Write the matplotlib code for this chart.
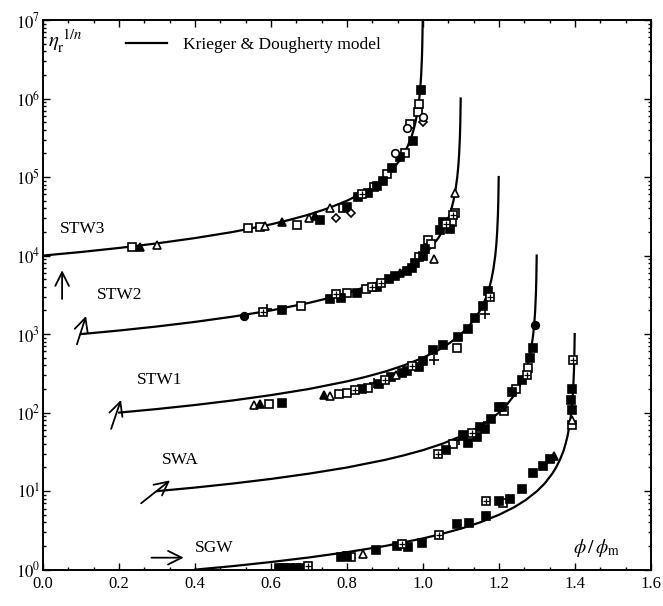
import numpy as np
import matplotlib
matplotlib.use("Agg")
import matplotlib.pyplot as plt
from matplotlib.ticker import MultipleLocator, LogLocator, NullFormatter, FormatStrFormatter, FuncFormatter

####### Data #######

# shape of the Krieger & Dougherty curve (relative to each curve's start)
model_x = np.array([0.0, 0.1, 0.2, 0.3, 0.4, 0.5, 0.6, 0.65, 0.7, 0.75, 0.8, 0.84, 0.87,
                    0.9, 0.92, 0.94, 0.95, 0.96, 0.97, 0.975, 0.98, 0.985, 0.99, 0.993,
                    0.995, 0.997, 0.998, 0.999])
model_y = np.array([1.0, 1.11, 1.25, 1.43, 1.67, 2.0, 2.5, 2.86, 3.33, 4.0, 5.0, 6.25, 7.7,
                    10, 12.5, 16.7, 20, 25, 33, 40, 50, 67, 100, 143,
                    200, 333, 500, 1000])

series_names = ["STW3", "STW2", "STW1", "SWA", "SGW"]
x_shift = [0.0, 0.1, 0.2, 0.3, 0.4]
y_factor = [1e4, 1e3, 1e2, 1e1, 1e0]

# measured points; marker codes: s open square, S filled square, t open triangle,
# T filled triangle, d open diamond, o open circle, O filled circle, + plus, b boxed plus
stw3_x = [0.234, 0.255, 0.30, 0.54, 0.571, 0.584, 0.629, 0.668, 0.70, 0.715, 0.73, 0.755,
          0.77, 0.79, 0.80, 0.81, 0.83, 0.84, 0.855, 0.87, 0.879, 0.895, 0.905, 0.918,
          0.926, 0.94, 0.953, 0.958, 0.966, 0.974, 0.987, 0.99, 0.995, 1.0, 1.0]
stw3_y = [1.3e4, 1.3e4, 1.35e4, 2.25e4, 2.3e4, 2.4e4, 2.65e4, 2.45e4, 3.0e4, 3.2e4, 2.8e4, 4.0e4,
          3.0e4, 4.0e4, 4.2e4, 3.5e4, 5.5e4, 6.0e4, 6.2e4, 7.5e4, 7.8e4, 9.0e4, 1.1e5, 1.3e5,
          2.0e5, 1.8e5, 2.0e5, 4.2e5, 4.7e5, 2.9e5, 6.8e5, 8.5e5, 1.3e6, 5.9e5, 5.0e5]
stw3_m = "sTtsstTstTStdsSdSbSsSSsSoSsosSssSod"

stw2_x = [0.53, 0.58, 0.59, 0.63, 0.68, 0.755, 0.77, 0.785, 0.80, 0.826, 0.85, 0.865, 0.879,
          0.89, 0.91, 0.926, 0.94, 0.958, 0.97, 0.98, 0.99, 1.0, 1.005, 1.013, 1.02, 1.03,
          1.045, 1.053, 1.06, 1.07, 1.076, 1.08, 1.084, 1.084]
stw2_y = [1.7e3, 1.9e3, 2.1e3, 2.0e3, 2.3e3, 2.8e3, 3.2e3, 2.9e3, 3.3e3, 3.3e3, 3.8e3, 4.0e3, 4.0e3,
          4.5e3, 5.0e3, 5.5e3, 6.0e3, 6.3e3, 7.0e3, 8.1e3, 9.5e3, 1.0e4, 1.2e4, 1.6e4, 1.4e4, 9.0e3,
          2.1e4, 2.7e4, 2.5e4, 2.2e4, 2.7e4, 3.3e4, 3.5e4, 6.2e4]
stw2_m = "Ob+SsSbSsSsbSbSSTSSSsSSsstSSbSsbst"

stw1_x = [0.555, 0.57, 0.595, 0.63, 0.74, 0.755, 0.78, 0.80, 0.82, 0.84, 0.855, 0.87, 0.885,
          0.90, 0.915, 0.93, 0.945, 0.958, 0.97, 0.99, 1.0, 1.026, 1.03, 1.053, 1.09, 1.092,
          1.118, 1.137, 1.158, 1.163, 1.17, 1.175]
stw1_y = [125, 128, 130, 132, 170, 165, 175, 180, 195, 200, 205, 240, 230,
          260, 280, 300, 320, 340, 390, 380, 460, 620, 470, 720, 660, 930,
          1170, 1600, 2300, 1800, 3500, 3000]
stw1_m = "tTsSTtssbSs+SbStSSbSSS+SsSSSS+Sb"

swa_x = [1.04, 1.06, 1.08, 1.095, 1.105, 1.118, 1.13, 1.142, 1.15, 1.163, 1.17, 1.18, 1.2,
         1.208, 1.213, 1.234, 1.245, 1.26, 1.274, 1.276, 1.282, 1.29, 1.295]
swa_y = [30, 33, 40, 45, 52, 41, 55, 49, 66, 62, 75, 83, 117,
         117, 105, 182, 200, 257, 302, 372, 500, 660, 1290]
swa_m = "bSs+SSbSSS+SSSsSsSbsSSO"

sgw_x = [0.62, 0.635, 0.65, 0.665, 0.68, 0.697, 0.785, 0.80, 0.81, 0.842, 0.876, 0.932, 0.945,
         0.96, 0.997, 1.042, 1.09, 1.12, 1.166, 1.166, 1.2, 1.21, 1.23, 1.26, 1.29, 1.316,
         1.334, 1.345, 1.392, 1.388, 1.392, 1.392, 1.392, 1.394]
sgw_y = [1.04, 1.04, 1.04, 1.05, 1.06, 1.1, 1.45, 1.5, 1.45, 1.6, 1.8, 2.0, 2.1,
         1.95, 2.2, 2.8, 3.8, 3.9, 4.8, 7.4, 7.4, 7.0, 8.0, 10.5, 17, 21,
         26, 28, 200, 145, 107, 80, 70, 470]
sgw_m = "SSSSSbSSstSSbSSbSSSbSsSSSSSTSSStsb"

points_x = [stw3_x, stw2_x, stw1_x, swa_x, sgw_x]
points_y = [stw3_y, stw2_y, stw1_y, swa_y, sgw_y]
points_m = [stw3_m, stw2_m, stw1_m, swa_m, sgw_m]

####### Styles #######

marker_styles = {
    "s": dict(marker="s", mfc="white", ms=5.5),
    "S": dict(marker="s", mfc="black", ms=5.5),
    "t": dict(marker="^", mfc="white", ms=6),
    "T": dict(marker="^", mfc="black", ms=6),
    "d": dict(marker="D", mfc="white", ms=4.5),
    "o": dict(marker="o", mfc="white", ms=5.5),
    "O": dict(marker="o", mfc="black", ms=5.5),
    "+": dict(marker="+", mfc="black", ms=7),
    "b": dict(marker="s", mfc="white", ms=5.5),
}

plt.rcParams["font.family"] = ["Liberation Serif", "DejaVu Serif"]
plt.rcParams["mathtext.fontset"] = "stix"

fig = plt.figure(figsize=(6.63, 6.06), dpi=100)
ax = fig.add_axes([0.065, 0.06, 0.917, 0.907])

# model curves
for counter1 in range(len(series_names)):
    label = "Krieger & Dougherty model" if counter1 == 0 else None
    ax.plot(model_x + x_shift[counter1], model_y * y_factor[counter1],
            color="black", lw=1.6, zorder=2, label=label)

# measured points
for xs, ys, ms in zip(points_x, points_y, points_m):
    xs = np.array(xs)
    ys = np.array(ys)
    codes = np.array(list(ms))
    for code, style in marker_styles.items():
        sel = codes == code
        if not sel.any():
            continue
        ax.plot(xs[sel], ys[sel], ls="none", mec="black", mew=1.2, zorder=3, **style)
        if code == "b":
            ax.plot(xs[sel], ys[sel], ls="none", marker="+", ms=4.5, mew=0.9,
                    color="black", zorder=4)

# series labels and arrows
label_pos = [(0.045, 2.2e4), (0.142, 3.1e3), (0.247, 258), (0.313, 25), (0.40, 1.9)]
arrow_pos = [((0.05, 2.8e3), (0.05, 6.5e3)),
             ((0.089, 740), (0.113, 1.7e3)),
             ((0.179, 62), (0.205, 145)),
             ((0.258, 7.0), (0.334, 13.7)),
             ((0.285, 1.42), (0.37, 1.42))]
for name, (tx, ty), (tail, head) in zip(series_names, label_pos, arrow_pos):
    ax.text(tx, ty, name, fontsize=12.5, va="center", ha="left")
    ax.annotate("", xy=head, xytext=tail,
                arrowprops=dict(arrowstyle="->,head_length=0.7,head_width=0.35",
                                lw=1.3, color="black", mutation_scale=14,
                                shrinkA=0, shrinkB=0))

ax.text(1.395, 1.9, r"$\phi\,/\,\phi_{\rm m}$", fontsize=14, va="center", ha="left")
ax.text(0.012, 5.3e6, r"$\eta_{\rm r}^{\;1/n}$", fontsize=15, va="center", ha="left")

ax.legend(loc="center left", bbox_to_anchor=(0.11, 0.955), frameon=False,
          handlelength=2.4, handletextpad=0.9, fontsize=12.5)

####### Axes #######
ax.set_yscale("log")
ax.set_xlim(0.0, 1.6)
ax.set_ylim(1, 1e7)
ax.xaxis.set_major_locator(MultipleLocator(0.2))
ax.xaxis.set_minor_locator(MultipleLocator(0.2 / 3))
ax.xaxis.set_major_formatter(FormatStrFormatter("%.1f"))
ax.yaxis.set_major_locator(LogLocator(base=10, numticks=10))
ax.yaxis.set_minor_locator(LogLocator(base=10, subs=np.arange(2, 10), numticks=10))
ax.yaxis.set_major_formatter(FuncFormatter(lambda v, pos: r"$10^{%d}$" % round(np.log10(v))))
ax.yaxis.set_minor_formatter(NullFormatter())
ax.tick_params(which="both", direction="in", top=True, right=True, width=1.0)
ax.tick_params(which="major", length=5, labelsize=12)
ax.tick_params(which="minor", length=2.5)
ax.tick_params(axis="x", pad=4.5)
ax.tick_params(axis="y", pad=2)
for spine in ax.spines.values():
    spine.set_linewidth(1.4)

fig.savefig("out.png", dpi=100)
